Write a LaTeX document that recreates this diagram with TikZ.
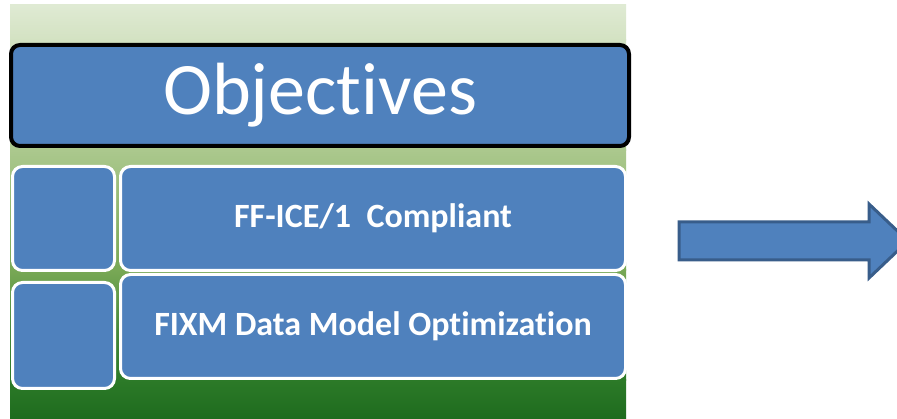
\documentclass[tikz,border=0pt]{standalone}
\usepackage{fontspec}
\setmainfont{Carlito}[Ligatures={NoCommon}]
\definecolor{boxblue}{HTML}{4F81BD}
\definecolor{arrowedge}{HTML}{385D8A}
\definecolor{gA}{HTML}{DFEAD3}
\definecolor{gB}{HTML}{D3E2C2}
\definecolor{gC}{HTML}{ABC88D}
\definecolor{gD}{HTML}{78A855}
\definecolor{gE}{HTML}{47893A}
\definecolor{gF}{HTML}{2C7A28}
\definecolor{gG}{HTML}{1E6B1E}
\tikzset{
  bluebox/.style={draw=white, line width=3pt, fill=boxblue, rounded corners=10pt},
  boxtext/.style={text=white, font=\fontsize{34}{38}\selectfont\bfseries},
  band/.style={draw=none},
}
\begin{document}
\begin{tikzpicture}[x=1pt,y=-1pt]
\useasboundingbox (0,0) rectangle (897,419);
\clip (0,0) rectangle (897,419);
\fill[white] (0,0) rectangle (897,419);
% green panel, built from stacked bands
\shade[band, top color=gA, bottom color=gB] (10,5) rectangle (626,40.5);
\shade[band, top color=gB, bottom color=gC] (10,40) rectangle (626,150.5);
\shade[band, top color=gC, bottom color=gD] (10,150) rectangle (626,270.5);
\shade[band, top color=gD, bottom color=gE] (10,270) rectangle (626,330.5);
\shade[band, top color=gE, bottom color=gF] (10,330) rectangle (626,380.5);
\shade[band, top color=gF, bottom color=gG] (10,380) rectangle (626,419);
\node[draw=black, line width=4pt, fill=boxblue, rounded corners=9pt, minimum width=618pt, minimum height=101pt, anchor=north west, inner sep=0, text=white, font=\fontsize{74}{80}\selectfont] (obj) at (9,43) {Objectives};
\node[bluebox, minimum width=102pt, minimum height=104pt, anchor=north west] (s1) at (11,165) {};
\node[bluebox, minimum width=505pt, minimum height=104pt, anchor=north west, boxtext] (b1) at (119,165) {FF-ICE/1\ \ Compliant};
\node[bluebox, minimum width=102pt, minimum height=106pt, anchor=north west] (s2) at (11,281) {};
\node[bluebox, minimum width=505pt, minimum height=104pt, anchor=north west, boxtext] (b2) at (119,273) {FIXM Data Model Optimization};
\draw[draw=arrowedge, line width=3pt, fill=boxblue, line join=miter]
  (679,222) -- (869,222) -- (869,204) -- (908,241) -- (869,278) -- (869,260) -- (679,260) -- cycle;
\end{tikzpicture}
\end{document}
